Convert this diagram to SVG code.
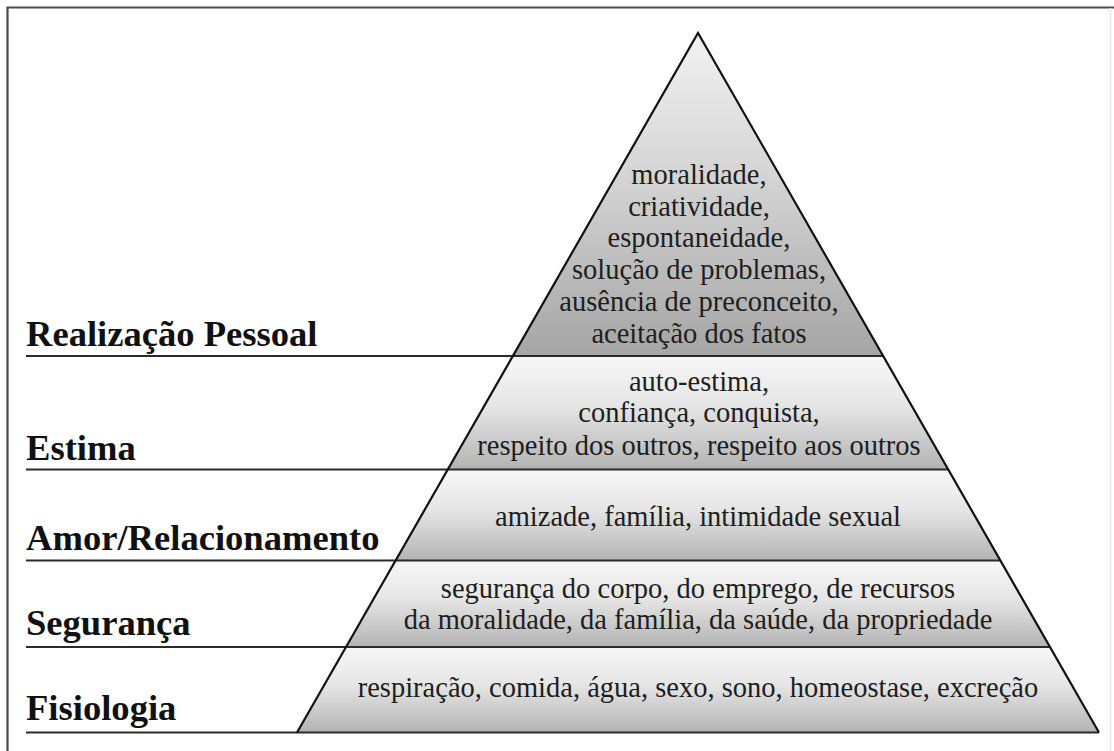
<svg xmlns="http://www.w3.org/2000/svg" width="1114" height="751" viewBox="0 0 1114 751">
  <defs>
    <linearGradient id="gTop" x1="0" y1="0" x2="0" y2="1">
      <stop offset="0" stop-color="#f2f2f2"/>
      <stop offset="0.45" stop-color="#d4d4d4"/>
      <stop offset="1" stop-color="#a5a5a5"/>
    </linearGradient>
    <linearGradient id="gBand" x1="0" y1="0" x2="0" y2="1">
      <stop offset="0" stop-color="#f7f7f7"/>
      <stop offset="0.45" stop-color="#e5e5e5"/>
      <stop offset="1" stop-color="#b3b3b3"/>
    </linearGradient>
    <style>
      .label { font-family: "Liberation Serif", "Times New Roman", serif; font-weight: bold; font-size: 36.6px; fill: #111; }
      .item { font-family: "Liberation Serif", "Times New Roman", serif; font-size: 28.5px; fill: #1e1e1e; text-anchor: middle; }
      .rule { stroke: #2a2a2a; stroke-width: 2; fill: none; }
      .frame { stroke: #4a4a4a; stroke-width: 2.2; fill: none; }
      .edge { stroke: #111; stroke-width: 2.2; fill: none; stroke-linejoin: miter; }
    </style>
  </defs>

  <rect width="1114" height="751" fill="#ffffff"/>

  <!-- outer frame: top and left rules, faint right rule -->
  <path class="frame" d="M7.5 751 V7.5 H1114"/>
  <line x1="1110.5" y1="8" x2="1110.5" y2="751" stroke="#e6e6e6" stroke-width="1.5"/>

  <!-- level: self-actualisation (apex) -->
  <g id="realizacao">
    <polygon points="698,33 512.8,356 883.2,356" fill="url(#gTop)"/>
    <text class="label" x="26" y="346">Realização Pessoal</text>
    <text class="item" x="699" y="184">moralidade,</text>
    <text class="item" x="699" y="215.5">criatividade,</text>
    <text class="item" x="699" y="247">espontaneidade,</text>
    <text class="item" x="699" y="279">solução de problemas,</text>
    <text class="item" x="699" y="310.5">ausência de preconceito,</text>
    <text class="item" x="699" y="342.5">aceitação dos fatos</text>
  </g>

  <!-- level: esteem -->
  <g id="estima">
    <polygon points="512.8,356 883.2,356 948.2,469.5 447.8,469.5" fill="url(#gBand)"/>
    <text class="label" x="26" y="460">Estima</text>
    <text class="item" x="699" y="390.5">auto-estima,</text>
    <text class="item" x="699" y="422">confiança, conquista,</text>
    <text class="item" x="699" y="455">respeito dos outros, respeito aos outros</text>
  </g>

  <!-- level: love / belonging -->
  <g id="amor">
    <polygon points="447.8,469.5 948.2,469.5 1000.4,560.5 395.6,560.5" fill="url(#gBand)"/>
    <text class="label" x="26" y="550">Amor/Relacionamento</text>
    <text class="item" x="698" y="526">amizade, família, intimidade sexual</text>
  </g>

  <!-- level: safety -->
  <g id="seguranca">
    <polygon points="395.6,560.5 1000.4,560.5 1050,647 346,647" fill="url(#gBand)"/>
    <text class="label" x="26" y="635">Segurança</text>
    <text class="item" x="698" y="598">segurança do corpo, do emprego, de recursos</text>
    <text class="item" x="698" y="629">da moralidade, da família, da saúde, da propriedade</text>
  </g>

  <!-- level: physiological -->
  <g id="fisiologia">
    <polygon points="346,647 1050,647 1099,732.5 297,732.5" fill="url(#gBand)"/>
    <text class="label" x="26" y="720">Fisiologia</text>
    <text class="item" x="698" y="697">respiração, comida, água, sexo, sono, homeostase, excreção</text>
  </g>

  <!-- rules separating the levels and the pyramid outline -->
  <g id="connectors">
    <line class="rule" x1="26" y1="356" x2="883.2" y2="356"/>
    <line class="rule" x1="26" y1="469.5" x2="948.2" y2="469.5"/>
    <line class="rule" x1="26" y1="560.5" x2="1000.4" y2="560.5"/>
    <line class="rule" x1="26" y1="647" x2="1050" y2="647"/>
    <line class="rule" x1="26" y1="732.5" x2="1099" y2="732.5"/>
    <path class="edge" d="M297 732.5 L698 33 L1099 732.5"/>
  </g>
</svg>
